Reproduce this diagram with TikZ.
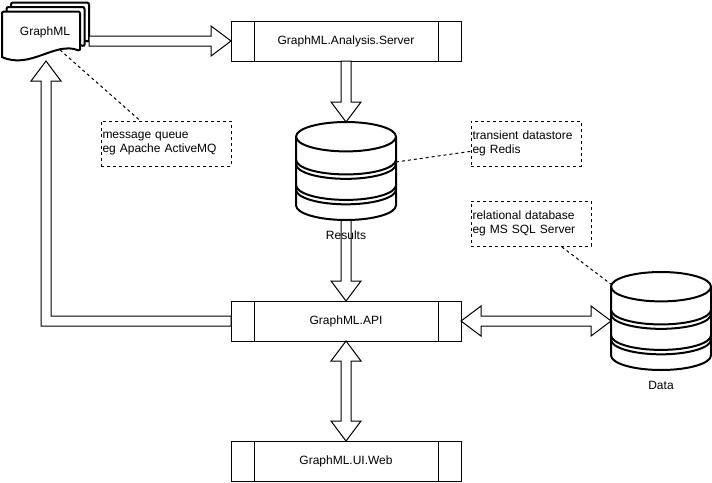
\documentclass[tikz,border=0pt]{standalone}
\usepackage{fontspec}
\setmainfont{Liberation Sans}
\usetikzlibrary{calc}
\newcommand\dbcyl[1]{%
\begin{scope}[shift={#1}]
 \draw[line width=2pt, fill=white] (0,14.7) arc[start angle=180, end angle=360, x radius=50, y radius=14.7] -- (100,83.3) arc[start angle=0, end angle=180, x radius=50, y radius=14.7] -- cycle;
 \foreach \yb in {14.7,37.73,42.14,63.21,67.62}{
   \draw[line width=2pt] (0,\yb) arc[start angle=180, end angle=0, x radius=50, y radius=14.7];
 }
\end{scope}}
\newcommand\docshape[1]{%
\begin{scope}[shift={#1}]
 \draw[line width=2pt, fill=white, rounded corners=2pt] (0,45.5) -- (0,0) -- (78,0) -- (78,39.5) [sharp corners] .. controls (53,29.5) and (28,58.5) .. (0,45.5) -- cycle;
\end{scope}}
\begin{document}
\begin{tikzpicture}[x=1pt,y=-1pt,line width=1pt,
  lbl/.style={font=\fontsize{12}{14.4}\selectfont},
  proc/.style={draw, fill=white, minimum width=230, minimum height=40, outer sep=0pt, inner sep=0pt, lbl,
    path picture={
      \draw[line width=1pt] ([xshift=23pt]path picture bounding box.north west) -- ([xshift=23pt]path picture bounding box.south west);
      \draw[line width=1pt] ([xshift=-23pt]path picture bounding box.north east) -- ([xshift=-23pt]path picture bounding box.south east);}},
  note/.style={draw, dash pattern=on 3pt off 3pt, align=left, inner xsep=1.5pt, inner ysep=0pt, minimum height=45, outer sep=0pt, lbl},
  blk/.style={draw, fill=white, line join=miter},
  dashln/.style={dash pattern=on 3pt off 3pt},
  holder/.style={inner sep=0pt, outer sep=0pt}
]
\useasboundingbox (0,0) rectangle (712,482);

% GraphML multi-document
\docshape{(11,2.5)}
\docshape{(6.5,7)}
\docshape{(2,11.5)}
\node[lbl] (gml) at (45,32) {GraphML};
\coordinate (gmlR) at (89,41);
\coordinate (gmlB) at (46,61);
\coordinate (gmlbot) at (60,50);

% process boxes
\node[proc] (srv) at (346,41) {GraphML.Analysis.Server};
\node[proc] (api) at (346,321) {GraphML.API};
\node[proc] (web) at (346,461) {GraphML.UI.Web};

% cylinders (holders)
\node[holder, minimum width=100, minimum height=98] (res) at (346,171) {};
\node[holder, minimum width=100, minimum height=98] (data) at (661,321) {};

% block arrows
\draw[blk] ($(gmlR)+(0,-5)$) -- ($(srv.west)+(-20,-5)$) -- ($(srv.west)+(-20,-15)$) -- (srv.west) -- ($(srv.west)+(-20,15)$) -- ($(srv.west)+(-20,5)$) -- ($(gmlR)+(0,5)$) -- cycle;
\draw[blk] ($(srv.south)+(-5,0)$) -- ($(res.north)+(-5,-20)$) -- ($(res.north)+(-15,-20)$) -- (res.north) -- ($(res.north)+(15,-20)$) -- ($(res.north)+(5,-20)$) -- ($(srv.south)+(5,0)$) -- cycle;
\draw[blk] ($(res.south)+(-5,0)$) -- ($(api.north)+(-5,-20)$) -- ($(api.north)+(-15,-20)$) -- (api.north) -- ($(api.north)+(15,-20)$) -- ($(api.north)+(5,-20)$) -- ($(res.south)+(5,0)$) -- cycle;
\draw[blk] (api.south) -- ($(api.south)+(15,20)$) -- ($(api.south)+(5,20)$) -- ($(web.north)+(5,-20)$) -- ($(web.north)+(15,-20)$) -- (web.north) -- ($(web.north)+(-15,-20)$) -- ($(web.north)+(-5,-20)$) -- ($(api.south)+(-5,20)$) -- ($(api.south)+(-15,20)$) -- cycle;
\draw[blk] (api.east) -- ($(api.east)+(20,-15)$) -- ($(api.east)+(20,-5)$) -- ($(data.west)+(-20,-5)$) -- ($(data.west)+(-20,-15)$) -- (data.west) -- ($(data.west)+(-20,15)$) -- ($(data.west)+(-20,5)$) -- ($(api.east)+(20,5)$) -- ($(api.east)+(20,15)$) -- cycle;
\draw[blk] ($(api.west)+(0,-5)$) -- ($(gmlB|-api.west)+(5,-5)$) -- ($(gmlB)+(5,20)$) -- ($(gmlB)+(15,20)$) -- (gmlB) -- ($(gmlB)+(-15,20)$) -- ($(gmlB)+(-5,20)$) -- ($(gmlB|-api.west)+(-5,5)$) -- ($(api.west)+(0,5)$) -- cycle;

% cylinders
\dbcyl{(296,122)}
\dbcyl{(611,272)}
\node[lbl] (reslbl) at (346,235) {Results};
\node[lbl] (datalbl) at (661,385) {Data};

% notes
\node[note, text width=127pt] (mq) at (166,143.5) {message queue\\eg Apache ActiveMQ};
\node[note, text width=107pt] (redis) at (526,143.5) {transient datastore\\eg Redis};
\node[note, text width=117pt] (sql) at (531,223.5) {relational database\\eg MS SQL Server};

\coordinate (resR) at (396,162);
\coordinate (dataTL) at (612,285);
\draw[dashln] (gmlbot) -- (mq);
\draw[dashln] (resR) -- (redis);
\draw[dashln] (dataTL) -- (sql);
\end{tikzpicture}
\end{document}
